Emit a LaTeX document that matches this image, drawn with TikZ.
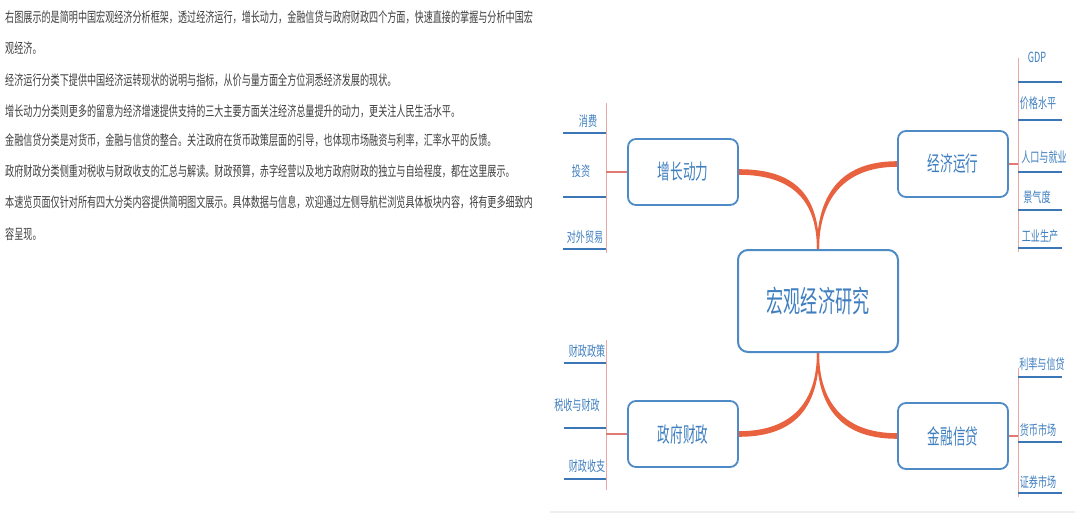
\documentclass[tikz,border=0pt]{standalone}
\usepackage{fontspec}
\newfontfamily\cjk{Noto Sans CJK SC}
\usetikzlibrary{backgrounds,calc}
\definecolor{txt}{HTML}{404040}
\definecolor{mblue}{HTML}{3F7FC0}
\definecolor{bord}{HTML}{4E8BC6}
\definecolor{trunkc}{HTML}{E8623F}
\definecolor{busc}{HTML}{EBA6A6}
\definecolor{stubc}{HTML}{E07A72}
\definecolor{ulc}{HTML}{3B77B6}
\definecolor{framec}{HTML}{EEEEEE}
\newcommand\hsq[2]{\scalebox{#1}[1]{#2}}
\begin{document}
\begin{tikzpicture}[x=1pt,y=-1pt,
  para/.style={anchor=west,inner sep=0pt,text=txt,font=\cjk\fontsize{14}{14}\selectfont},
  hubbox/.style={draw=bord,line width=2pt,rounded corners=10pt,fill=white,text=mblue,minimum width=160pt,minimum height=102pt,font=\cjk\fontsize{30}{30}\selectfont},
  catbox/.style={draw=bord,line width=1.8pt,rounded corners=8pt,fill=white,text=mblue,minimum width=110pt,minimum height=66pt,font=\cjk\fontsize{21}{21}\selectfont},
  leaf/.style={inner sep=0pt,text=mblue,font=\cjk\fontsize{14}{14}\selectfont},
  uline/.style={draw=ulc,line width=2.6pt},
  bus/.style={draw=busc,line width=1pt},
  stub/.style={draw=stubc,line width=1.4pt},
  trunk/.style={fill=trunkc}]
\useasboundingbox (0,0) rectangle (1080,522);

% left paragraph
\node[para] (p1) at (5,17) {\hsq{0.65}{右图展示的是简明中国宏观经济分析框架，透过经济运行，增长动力，金融信贷与政府财政四个方面，快速直接的掌握与分析中国宏}};
\node[para] (p2) at (5,48) {\hsq{0.65}{观经济。}};
\node[para] (p3) at (5,80) {\hsq{0.65}{经济运行分类下提供中国经济运转现状的说明与指标，从价与量方面全方位洞悉经济发展的现状。}};
\node[para] (p4) at (5,111) {\hsq{0.65}{增长动力分类则更多的留意为经济增速提供支持的三大主要方面关注经济总量提升的动力，更关注人民生活水平。}};
\node[para] (p5) at (5,140) {\hsq{0.65}{金融信贷分类是对货币，金融与信贷的整合。关注政府在货币政策层面的引导，也体现市场融资与利率，汇率水平的反馈。}};
\node[para] (p6) at (5,171) {\hsq{0.65}{政府财政分类侧重对税收与财政收支的汇总与解读。财政预算，赤字经营以及地方政府财政的独立与自给程度，都在这里展示。}};
\node[para] (p7) at (5,202) {\hsq{0.65}{本速览页面仅针对所有四大分类内容提供简明图文展示。具体数据与信息，欢迎通过左侧导航栏浏览具体板块内容，将有更多细致内}};
\node[para] (p8) at (5,234) {\hsq{0.65}{容呈现。}};

% frame line at bottom of diagram
\draw[framec,line width=2pt] (550,512) -- (1075,512);

% hub and categories
\node[hubbox] (c) at (818,301) {\hsq{0.57}{宏观经济研究}};
\node[catbox] (g) at (683,172) {\hsq{0.6}{增长动力}};
\node[catbox] (e) at (953,164) {\hsq{0.6}{经济运行}};
\node[catbox] (f) at (683,434) {\hsq{0.6}{政府财政}};
\node[catbox] (j) at (953,436) {\hsq{0.6}{金融信贷}};

\begin{pgfonlayer}{background}
\fill[white] (0,0) rectangle (1080,522);
\fill[trunk] ([yshift=2.8]g.east) .. controls +(60,0) and +(0,-50) .. ([xshift=1.1]c.north)
  -- ([xshift=-1.1]c.north) .. controls +(0,-46) and +(56,0) .. ([yshift=-2.8]g.east) -- cycle;
\fill[trunk] ([yshift=2.8]e.west) .. controls +(-60,0) and +(0,-50) .. ([xshift=-1.1]c.north)
  -- ([xshift=1.1]c.north) .. controls +(0,-46) and +(-56,0) .. ([yshift=-2.8]e.west) -- cycle;
\fill[trunk] ([yshift=-2.8]f.east) .. controls +(60,0) and +(0,50) .. ([xshift=1.1]c.south)
  -- ([xshift=-1.1]c.south) .. controls +(0,46) and +(56,0) .. ([yshift=2.8]f.east) -- cycle;
\fill[trunk] ([yshift=-2.8]j.west) .. controls +(-60,0) and +(0,50) .. ([xshift=-1.1]c.south)
  -- ([xshift=1.1]c.south) .. controls +(0,46) and +(-56,0) .. ([yshift=2.8]j.west) -- cycle;
\end{pgfonlayer}

% ---- 增长动力 leaves
\coordinate (gb1) at (606,103); \coordinate (gb2) at (606,253);
\draw[bus] (gb1) -- (gb2);
\draw[stub] (g.west) -- (g.west -| gb1);
\node[leaf] (g1) at (588,121) {\hsq{0.65}{消费}};
\node[leaf] (g2) at (581,171) {\hsq{0.65}{投资}};
\node[leaf] (g3) at (585,237) {\hsq{0.65}{对外贸易}};
\draw[uline] (563,133) -- (606,133);
\draw[uline] (563,197) -- (606,197);
\draw[uline] (563,249) -- (606,249);

% ---- 经济运行 leaves
\coordinate (eb1) at (1018,58); \coordinate (eb2) at (1018,252);
\draw[bus] (eb1) -- (eb2);
\draw[stub] (e.east) -- (e.east -| eb1);
\node[leaf] (e1) at (1037,57) {\hsq{0.65}{GDP}};
\node[leaf] (e2) at (1038,103) {\hsq{0.65}{价格水平}};
\node[leaf] (e3) at (1044,157) {\hsq{0.65}{人口与就业}};
\node[leaf] (e4) at (1037,197) {\hsq{0.65}{景气度}};
\node[leaf] (e5) at (1040,236) {\hsq{0.65}{工业生产}};
\draw[uline] (1018,82) -- (1062,82);
\draw[uline] (1018,120) -- (1062,120);
\draw[uline] (1018,172) -- (1062,172);
\draw[uline] (1018,210) -- (1062,210);
\draw[uline] (1018,248) -- (1062,248);

% ---- 政府财政 leaves
\coordinate (fb1) at (606,340); \coordinate (fb2) at (606,490);
\draw[bus] (fb1) -- (fb2);
\draw[stub] (f.west) -- (f.west -| fb1);
\node[leaf] (f1) at (587,351) {\hsq{0.65}{财政政策}};
\node[leaf] (f2) at (577,405) {\hsq{0.65}{税收与财政}};
\node[leaf] (f3) at (587,466) {\hsq{0.65}{财政收支}};
\draw[uline] (564,363) -- (606,363);
\draw[uline] (564,428) -- (606,428);
\draw[uline] (564,479) -- (606,479);

% ---- 金融信贷 leaves
\coordinate (jb1) at (1018,368); \coordinate (jb2) at (1018,497);
\draw[bus] (jb1) -- (jb2);
\draw[stub] (j.east) -- (j.east -| jb1);
\node[leaf] (j1) at (1042,364) {\hsq{0.65}{利率与信贷}};
\node[leaf] (j2) at (1038,430) {\hsq{0.65}{货币市场}};
\node[leaf] (j3) at (1038,482) {\hsq{0.65}{证券市场}};
\draw[uline] (1018,377) -- (1062,377);
\draw[uline] (1018,442) -- (1062,442);
\draw[uline] (1018,493) -- (1062,493);
\end{tikzpicture}
\end{document}
